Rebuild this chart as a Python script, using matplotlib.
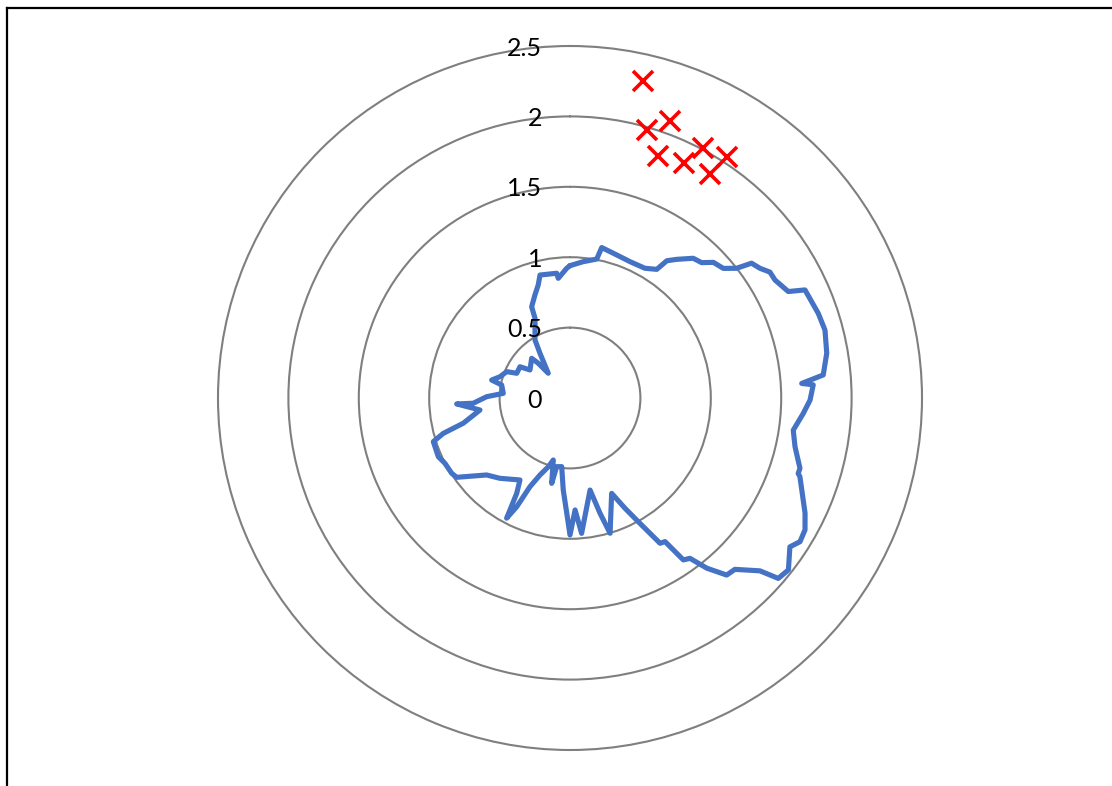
import numpy as np
import matplotlib
matplotlib.use("Agg")
import matplotlib.pyplot as plt
from matplotlib.lines import Line2D

# ---- data (angle in degrees clockwise from north, radius) ----
series_angle = [0, 5.4, 10.9, 11.9, 16.7, 23.8, 30.0, 34.0, 35.2, 37.6, 41.4, 44.2, 46.6,
                49.8, 52.1, 53.4, 55.7, 57.8, 60.1, 64.0, 65.3, 71.2, 75.1, 80.1, 84.8,
                86.4, 86.9, 90.5, 93.8, 98.2, 102.2, 107.0, 108.3, 108.9, 116.1, 119.3,
                122.0, 124.1, 128.2, 130.9, 132.3, 136.1, 138.5, 141.2, 143.2, 145.0,
                146.5, 148.2, 151.1, 153.5, 156.4, 163.5, 165.4, 167.7, 175.1, 177.4,
                180.0, 181.6, 184.2, 186.9, 191.0, 192.1, 195.1, 197.5, 201.3, 204.3,
                206.1, 207.8, 209.2, 211.4, 221.1, 227.3, 235.0, 237.5, 242.4, 246.0,
                252.3, 254.4, 256.7, 262.4, 267.0, 266.9, 270.9, 274.0, 280.8, 282.9,
                286.9, 292.6, 294.9, 302.0, 305.0, 316.0, 317.6, 318.7, 326.1, 328.9,
                336.3, 337.2, 341.2, 344.3, 346.3, 353.9, 354.4, 358.5, 360.0]
series_r = [0.94, 0.972, 1.005, 1.092, 1.073, 1.058, 1.064, 1.102, 1.193, 1.243, 1.323,
            1.341, 1.402, 1.426, 1.500, 1.606, 1.634, 1.678, 1.680, 1.725, 1.837, 1.863,
            1.874, 1.851, 1.806, 1.649, 1.730, 1.705, 1.660, 1.602, 1.635, 1.708, 1.707,
            1.726, 1.859, 1.914, 1.926, 1.886, 1.974, 1.957, 1.824, 1.689, 1.679, 1.551,
            1.422, 1.404, 1.223, 1.214, 1.004, 0.875, 0.739, 1.002, 0.846, 0.669, 0.965,
            0.796, 0.973, 0.819, 0.655, 0.491, 0.497, 0.620, 0.456, 0.512, 0.587, 0.691,
            0.860, 0.965, 0.776, 0.682, 0.757, 0.806, 0.982, 0.996, 1.002, 1.024, 1.019,
            0.934, 0.779, 0.645, 0.806, 0.688, 0.592, 0.475, 0.494, 0.571, 0.520, 0.487,
            0.417, 0.419, 0.347, 0.392, 0.334, 0.234, 0.382, 0.481, 0.618, 0.703, 0.773,
            0.834, 0.899, 0.891, 0.854, 0.921, 0.94]

marker_angle = [13.0, 16.0, 19.9, 20.0, 25.9, 28.0, 33.1, 32.0]
marker_r = [2.310, 1.980, 2.092, 1.829, 1.855, 2.011, 2.043, 1.876]

r_ticks = [0, 0.5, 1, 1.5, 2, 2.5]
r_tick_labels = ["0", "0.5", "1", "1.5", "2", "2.5"]

fig = plt.figure(figsize=(11.12, 7.86), dpi=100)
fig.patch.set_facecolor("white")

ax = fig.add_axes([218 / 1112, 36 / 786, 704 / 1112, 704 / 786], projection="polar")
ax.set_theta_zero_location("N")
ax.set_theta_direction(-1)
ax.set_ylim(0, 2.5)

grid_color = "#7f7f7f"
ax.set_xticks([])
ax.set_yticks([0.5, 1, 1.5, 2])
ax.set_yticklabels([])
ax.tick_params(axis="both", length=0, width=0)
for t in ax.yaxis.get_major_ticks():
    t.tick1line.set_visible(False)
    t.tick2line.set_visible(False)
ax.yaxis.grid(True, color=grid_color, linewidth=1.5, solid_capstyle="round")
ax.xaxis.grid(False)
ax.spines["polar"].set_color(grid_color)
ax.spines["polar"].set_linewidth(1.5)

ax.plot(np.deg2rad(series_angle), series_r, color="#4472C4", linewidth=3.7,
        solid_joinstyle="round", solid_capstyle="round", zorder=3)
ax.plot(np.deg2rad(marker_angle), marker_r, linestyle="none", marker="x",
        markersize=14, markeredgewidth=2.6, color="#FF0000", zorder=4)

for val, lab in zip(r_ticks, r_tick_labels):
    ax.annotate(lab, xy=(0, val), xytext=(-28, -2), textcoords="offset pixels",
                ha="right", va="center", fontsize=18, family="Lato",
                color="black", zorder=5, annotation_clip=False)

# chart frame (top and left edges visible)
fig.add_artist(Line2D([7 / 1112, 7 / 1112], [0, 1 - 8 / 786], transform=fig.transFigure,
                      color="black", linewidth=1.6))
fig.add_artist(Line2D([7 / 1112, 1], [1 - 8 / 786, 1 - 8 / 786], transform=fig.transFigure,
                      color="black", linewidth=1.6))

fig.savefig("out.png", dpi=100, facecolor="white")
